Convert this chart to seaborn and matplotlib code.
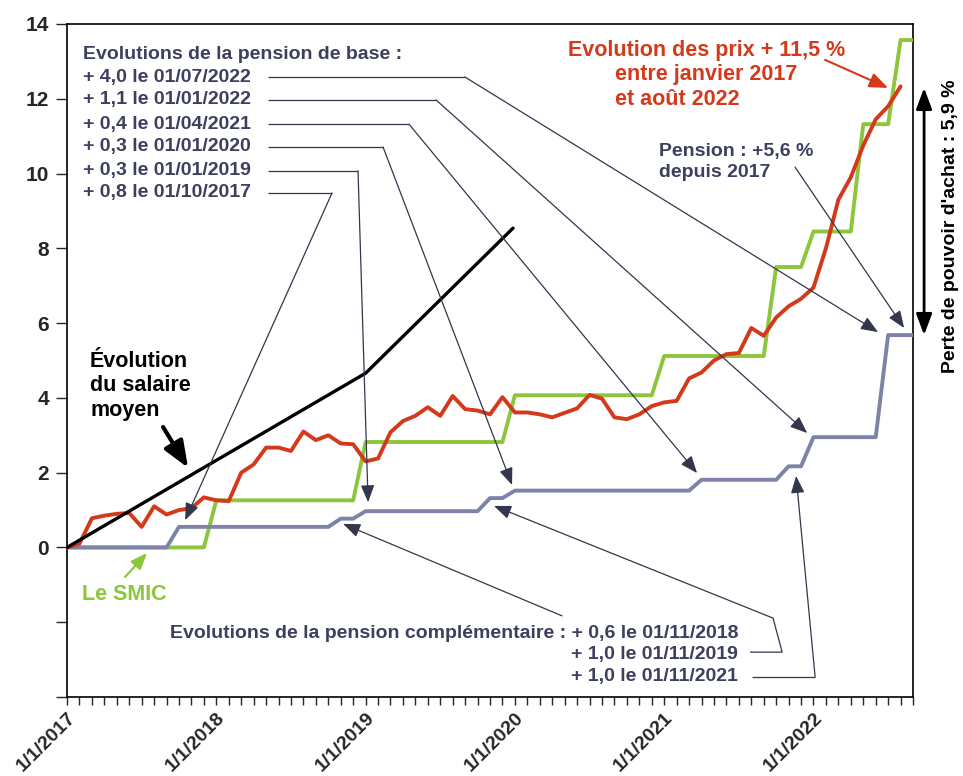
import matplotlib
matplotlib.use("Agg")
import matplotlib.pyplot as plt
import seaborn as sns
import pandas as pd

sns.set_style("ticks")
plt.rcParams["font.family"] = ["Liberation Sans", "DejaVu Sans"]
plt.rcParams["font.weight"] = "bold"

# ---------------- data (months since 1/1/2017, cumulative % change) ----------------
mois_prix = list(range(68))
prix = [0, 0.1, 0.78, 0.85, 0.9, 0.92, 0.55, 1.1, 0.88, 1.0,
        1.05, 1.34, 1.26, 1.24, 2.0, 2.22, 2.67, 2.67, 2.58, 3.1,
        2.87, 3.0, 2.78, 2.76, 2.3, 2.38, 3.08, 3.38, 3.52, 3.75,
        3.52, 4.05, 3.7, 3.66, 3.56, 4.02, 3.61, 3.61, 3.56, 3.48,
        3.6, 3.72, 4.08, 3.98, 3.48, 3.43, 3.56, 3.78, 3.88, 3.92,
        4.52, 4.68, 5.0, 5.17, 5.2, 5.87, 5.66, 6.15, 6.45, 6.65,
        6.95, 8.0, 9.3, 9.9, 10.75, 11.45, 11.8, 12.33]

mois_smic = list(range(69))
smic = ([0.0] * 12 + [1.26] * 12 + [2.82] * 12 + [4.07] * 12 + [5.12] * 9
        + [7.5] * 3 + [8.45] * 4 + [11.32] * 3 + [13.57] * 2)

mois_pension = list(range(69))
pension = ([0.0] * 9 + [0.55] * 13 + [0.77] * 2 + [0.97] * 10 + [1.32] * 2
           + [1.52] * 15 + [1.81] * 7 + [2.17] * 2 + [2.95] * 6 + [5.68] * 3)

mois_salaire = [0, 24, 35.85]
salaire = [0, 4.66, 8.54]

annees = ["1/1/2017", "1/1/2018", "1/1/2019", "1/1/2020", "1/1/2021", "1/1/2022"]
yticks = [-4, -2, 0, 2, 4, 6, 8, 10, 12, 14]
ytick_labels = ["", "", "0", "2", "4", "6", "8", "10", "12", "14"]

base_labels = ["+ 4,0 le 01/07/2022", "+ 1,1 le 01/01/2022", "+ 0,4 le 01/04/2021",
               "+ 0,3 le 01/01/2020", "+ 0,3 le 01/01/2019", "+ 0,8 le 01/10/2017"]
compl_labels = ["Evolutions de la pension complémentaire : + 0,6 le 01/11/2018",
                "+ 1,0 le 01/11/2019", "+ 1,0 le 01/11/2021"]

# ---------------- styles ----------------
GREEN = "#8cc63c"
RED = "#d4391c"
PENS = "#7c83a6"
NAVY = "#3c3f5e"
LINE = "#33364c"

fig = plt.figure(figsize=(9.63, 7.76), dpi=100)
ax = fig.add_axes([0.0696, 0.1018, 0.8785, 0.8673])

sns.lineplot(x=mois_smic, y=smic, ax=ax, color=GREEN, lw=2.8, zorder=3)
sns.lineplot(x=mois_pension, y=pension, ax=ax, color=PENS, lw=2.8, zorder=3)
sns.lineplot(x=mois_prix, y=prix, ax=ax, color=RED, lw=2.8, zorder=4)
sns.lineplot(x=mois_salaire, y=salaire, ax=ax, color="black", lw=2.4, zorder=5)

ax.set_xlim(0, 68)
ax.set_ylim(-4, 14)
ax.set_xticks(range(0, 61, 12))
ax.set_xticklabels(annees)
ax.set_xticks(range(0, 69), minor=True)
ax.set_yticks(yticks)
ax.set_yticklabels(ytick_labels)
ax.set_xlabel("")
ax.set_ylabel("")
for s in ax.spines.values():
    s.set_visible(True)
    s.set_linewidth(1.2)
    s.set_color("black")
ax.tick_params(axis="x", which="both", direction="out", length=6, width=1, labelsize=14, pad=3)
ax.tick_params(axis="y", direction="out", length=8, width=1, labelsize=15, pad=5)
for lab in ax.get_xticklabels():
    lab.set_rotation(45)
    lab.set_ha("right")
    lab.set_va("top")
    lab.set_rotation_mode("anchor")
    lab.set_fontweight("bold")
for lab in ax.get_yticklabels():
    lab.set_fontweight("bold")


def connector(points, tip, color=LINE, lw=0.9, ms=14):
    xs = [p[0] for p in points]
    ys = [p[1] for p in points]
    if len(points) > 1:
        ax.plot(xs, ys, color=color, lw=lw, zorder=6, solid_capstyle="butt")
    ax.annotate("", xy=tip, xytext=points[-1],
                arrowprops=dict(arrowstyle="-|>,head_length=0.75,head_width=0.3",
                                mutation_scale=ms, color=color, lw=lw,
                                shrinkA=0, shrinkB=0),
                zorder=6, annotation_clip=False)


# ---- base pension block (top left)
ax.text(1.29, 13.19, "Evolutions de la pension de base :", color=NAVY,
        fontsize=14, fontweight="bold", va="center", ha="left")
base_y = [12.58, 11.97, 11.32, 10.71, 10.07, 9.48]
corners_x = [31.99, 29.66, 27.49, 25.4, 23.39, 21.3]
tips = [(65.19, 5.76), (59.49, 3.06), (50.64, 1.99), (35.77, 1.67), (24.2, 1.21), (9.49, 0.73)]
for lab, y, cx, tip in zip(base_labels, base_y, corners_x, tips):
    ax.text(1.29, y, lab, color=NAVY, fontsize=14, fontweight="bold", va="center", ha="left")
    connector([(16.16, y), (cx, y)], tip)

# ---- complementary pension block (bottom)
comp_y = [-2.29, -2.85, -3.46]
for lab, y in zip(compl_labels, comp_y):
    ax.text(53.94, y, lab, color=NAVY, fontsize=14, fontweight="bold", va="center", ha="right")
connector([(39.79, -1.83)], (22.19, 0.63))
connector([(54.9, -2.8), (57.48, -2.8), (56.75, -1.89)], (34.32, 1.11))
connector([(55.06, -3.46), (60.13, -3.46)], (58.6, 1.91))

# ---- prices
ax.text(51.45, 13.29, "Evolution des prix + 11,5 %", color=RED, fontsize=15.5,
        fontweight="bold", ha="center", va="center")
ax.text(44.05, 12.65, "entre janvier 2017", color=RED, fontsize=15.5,
        fontweight="bold", ha="left", va="center")
ax.text(44.05, 11.99, "et août 2022", color=RED, fontsize=15.5,
        fontweight="bold", ha="left", va="center")
connector([(60.93, 13.04)], (66.0, 12.29), color=RED, lw=1.5, ms=15)

# ---- pension total
ax.text(47.59, 10.6, "Pension : +5,6 %", color=NAVY, fontsize=14, fontweight="bold",
        ha="left", va="center")
ax.text(47.59, 10.02, "depuis 2017", color=NAVY, fontsize=14, fontweight="bold",
        ha="left", va="center")
connector([(58.52, 10.17)], (67.28, 5.87))

# ---- salary
for t, y in zip(["Évolution", "du salaire", "moyen"], [4.96, 4.32, 3.67]):
    ax.text(1.85, y, t, color="black", fontsize=15.5, fontweight="bold", ha="left", va="center")
ax.annotate("", xy=(9.73, 2.13), xytext=(7.72, 3.22),
            arrowprops=dict(arrowstyle="-|>,head_length=0.8,head_width=0.32",
                            mutation_scale=20, color="black", lw=3,
                            shrinkA=0, shrinkB=0), zorder=6)

# ---- SMIC
ax.text(1.21, -1.27, "Le SMIC", color=GREEN, fontsize=15.5, fontweight="bold",
        ha="left", va="center")
connector([(4.66, -0.79)], (6.43, -0.15), color=GREEN, lw=1.6, ms=13)

# ---- purchasing power loss
ax.annotate("", xy=(68.89, 12.29), xytext=(68.89, 5.68),
            arrowprops=dict(arrowstyle="<|-|>,head_length=0.8,head_width=0.3",
                            mutation_scale=16, color="black", lw=2,
                            shrinkA=0, shrinkB=0), annotation_clip=False)
ax.text(70.98, 8.6, "Perte de pouvoir d'achat : 5,9 %", rotation=90, color="black",
        fontsize=14, fontweight="bold", ha="center", va="center", clip_on=False)

fig.savefig("out.png", dpi=100)
